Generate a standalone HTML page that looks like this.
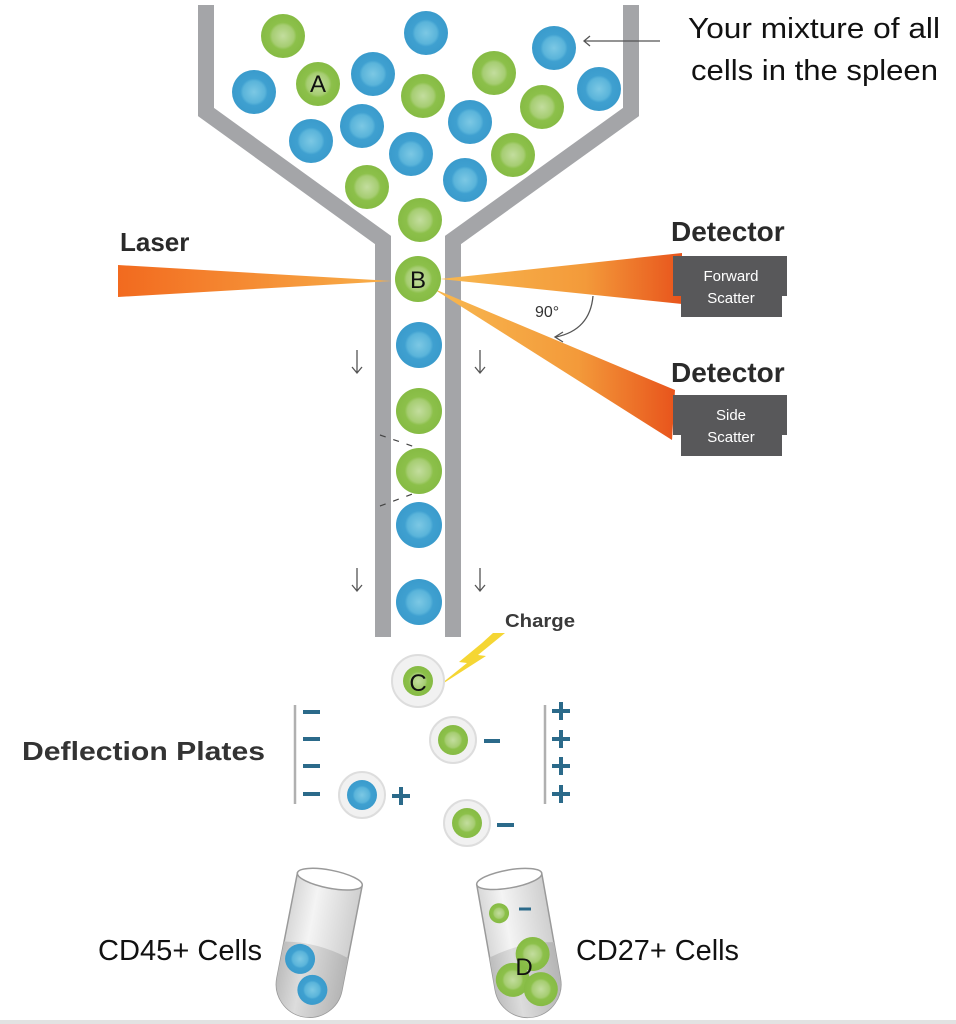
<!DOCTYPE html>
<html><head><meta charset="utf-8"><style>
html,body{margin:0;padding:0;background:#fff;width:956px;height:1024px;overflow:hidden}
svg{display:block}
text{font-family:"Liberation Sans",sans-serif}
</style></head><body>
<svg width="956" height="1024" viewBox="0 0 956 1024" xmlns="http://www.w3.org/2000/svg">
<defs>
<radialGradient id="gb" cx="50%" cy="50%" r="50%"><stop offset="0" stop-color="#7cc8e4"/><stop offset="0.5" stop-color="#5ab4da"/><stop offset="0.62" stop-color="#3fa0d0"/><stop offset="1" stop-color="#3a9bcc"/></radialGradient>
<radialGradient id="gg" cx="50%" cy="50%" r="50%"><stop offset="0" stop-color="#c3dd9e"/><stop offset="0.5" stop-color="#a6cd72"/><stop offset="0.62" stop-color="#8cc04a"/><stop offset="1" stop-color="#86bb44"/></radialGradient>
<linearGradient id="lz" x1="0" y1="0" x2="1" y2="0"><stop offset="0" stop-color="#f26a1f"/><stop offset="1" stop-color="#f8b04a"/></linearGradient>
<linearGradient id="lz2" x1="1" y1="0" x2="0" y2="0"><stop offset="0" stop-color="#e8541c"/><stop offset="0.4" stop-color="#f39a3a"/><stop offset="1" stop-color="#f8b850"/></linearGradient>
<linearGradient id="tube" x1="0" y1="0" x2="1" y2="0"><stop offset="0" stop-color="#d8d8d8"/><stop offset="0.35" stop-color="#f4f4f4"/><stop offset="1" stop-color="#cfcfcf"/></linearGradient>
<linearGradient id="tubel" x1="0" y1="0" x2="1" y2="0"><stop offset="0" stop-color="#bdbdbd"/><stop offset="0.35" stop-color="#dcdcdc"/><stop offset="1" stop-color="#b5b5b5"/></linearGradient>
</defs>

<g fill="none" stroke="#a4a5a8" stroke-width="16" stroke-linejoin="miter">
<polyline points="206,5 206,112 383,240 383,637"/>
<polyline points="631,5 631,112 453,240 453,637"/>
</g>

<polygon points="118,265 118,297 392,281" fill="url(#lz)"/>
<polygon points="440,279 682,253 682,304" fill="url(#lz2)"/>
<polygon points="432,288 675,390 672,440" fill="url(#lz2)"/>

<path d="M673,256 H787 V296 H782 V317 H681 V296 H673 Z" fill="#58585a"/>
<text x="731" y="281" font-size="15" fill="#fff" text-anchor="middle">Forward</text>
<text x="731" y="303" font-size="15" fill="#fff" text-anchor="middle">Scatter</text>
<path d="M673,395 H787 V435 H782 V456 H681 V435 H673 Z" fill="#58585a"/>
<text x="731" y="420" font-size="15" fill="#fff" text-anchor="middle">Side</text>
<text x="731" y="442" font-size="15" fill="#fff" text-anchor="middle">Scatter</text>

<text x="120" y="251" font-size="26" font-weight="bold" fill="#2a2a2a">Laser</text>
<text x="671" y="241" font-size="28" font-weight="bold" fill="#2a2a2a">Detector</text>
<text x="671" y="382" font-size="28" font-weight="bold" fill="#2a2a2a">Detector</text>
<text x="535" y="317" font-size="16" fill="#333">90°</text>
<path d="M593,296 Q590,330 556,337" fill="none" stroke="#555" stroke-width="1.3"/>
<path d="M563,332 L555,337 L563,342" fill="none" stroke="#555" stroke-width="1.3"/>

<g>
<circle cx="283" cy="36" r="22" fill="url(#gg)"/>
<circle cx="426" cy="33" r="22" fill="url(#gb)"/>
<circle cx="554" cy="48" r="22" fill="url(#gb)"/>
<circle cx="254" cy="92" r="22" fill="url(#gb)"/>
<circle cx="318" cy="84" r="22" fill="url(#gg)"/>
<circle cx="373" cy="74" r="22" fill="url(#gb)"/>
<circle cx="423" cy="96" r="22" fill="url(#gg)"/>
<circle cx="494" cy="73" r="22" fill="url(#gg)"/>
<circle cx="599" cy="89" r="22" fill="url(#gb)"/>
<circle cx="542" cy="107" r="22" fill="url(#gg)"/>
<circle cx="470" cy="122" r="22" fill="url(#gb)"/>
<circle cx="311" cy="141" r="22" fill="url(#gb)"/>
<circle cx="362" cy="126" r="22" fill="url(#gb)"/>
<circle cx="411" cy="154" r="22" fill="url(#gb)"/>
<circle cx="513" cy="155" r="22" fill="url(#gg)"/>
<circle cx="465" cy="180" r="22" fill="url(#gb)"/>
<circle cx="367" cy="187" r="22" fill="url(#gg)"/>
<circle cx="420" cy="220" r="22" fill="url(#gg)"/>
</g>
<text x="318" y="92" font-size="24" fill="#111" text-anchor="middle">A</text>

<line x1="660" y1="41" x2="584" y2="41" stroke="#555" stroke-width="1.3"/>
<path d="M590,36 L584,41 L590,46" fill="none" stroke="#555" stroke-width="1.3"/>
<text x="688" y="38" font-size="29" fill="#111" textLength="252" lengthAdjust="spacingAndGlyphs">Your mixture of all</text>
<text x="691" y="80" font-size="29" fill="#111" textLength="247" lengthAdjust="spacingAndGlyphs">cells in the spleen</text>

<circle cx="418" cy="279" r="23" fill="url(#gg)"/>
<text x="418" y="288" font-size="24" fill="#111" text-anchor="middle">B</text>
<circle cx="419" cy="345" r="23" fill="url(#gb)"/>
<circle cx="419" cy="411" r="23" fill="url(#gg)"/>
<circle cx="419" cy="471" r="23" fill="url(#gg)"/>
<circle cx="419" cy="525" r="23" fill="url(#gb)"/>
<circle cx="419" cy="602" r="23" fill="url(#gb)"/>

<g stroke="#444" stroke-width="1.2" stroke-dasharray="6,8">
<line x1="380" y1="435" x2="418" y2="448"/>
<line x1="380" y1="506" x2="418" y2="492"/>
</g>

<g fill="none" stroke="#555" stroke-width="1.3">
<path d="M357,350 V373 M352,367 L357,373 L362,367"/>
<path d="M480,350 V373 M475,367 L480,373 L485,367"/>
<path d="M357,568 V591 M352,585 L357,591 L362,585"/>
<path d="M480,568 V591 M475,585 L480,591 L485,585"/>
</g>

<text x="505" y="627" font-size="18" font-weight="bold" fill="#3a3a3a" textLength="70" lengthAdjust="spacingAndGlyphs">Charge</text>
<polygon points="493,633 505,633 478,655 486,656 436,688 467,663 459,662 482,643" fill="#f5d634"/>

<circle cx="418" cy="681" r="26" fill="#f1f1f1" stroke="#ddd" stroke-width="2"/>
<circle cx="418" cy="681" r="15" fill="url(#gg)"/>
<text x="418" y="691" font-size="24" fill="#111" text-anchor="middle">C</text>
<circle cx="453" cy="740" r="23" fill="#f1f1f1" stroke="#ddd" stroke-width="2"/>
<circle cx="453" cy="740" r="15" fill="url(#gg)"/>
<circle cx="362" cy="795" r="23" fill="#f1f1f1" stroke="#ddd" stroke-width="2"/>
<circle cx="362" cy="795" r="15" fill="url(#gb)"/>
<circle cx="467" cy="823" r="23" fill="#f1f1f1" stroke="#ddd" stroke-width="2"/>
<circle cx="467" cy="823" r="15" fill="url(#gg)"/>

<g stroke="#b0b0b0" stroke-width="2.5"><line x1="295" y1="705" x2="295" y2="804"/><line x1="545" y1="705" x2="545" y2="804"/></g>
<g stroke="#2b6a8a" stroke-width="4">
<line x1="303" y1="712" x2="320" y2="712"/><line x1="303" y1="739" x2="320" y2="739"/><line x1="303" y1="766" x2="320" y2="766"/><line x1="303" y1="794" x2="320" y2="794"/>
<line x1="552" y1="711" x2="570" y2="711"/><line x1="561" y1="702" x2="561" y2="720"/>
<line x1="552" y1="739" x2="570" y2="739"/><line x1="561" y1="730" x2="561" y2="748"/>
<line x1="552" y1="766" x2="570" y2="766"/><line x1="561" y1="757" x2="561" y2="775"/>
<line x1="552" y1="794" x2="570" y2="794"/><line x1="561" y1="785" x2="561" y2="803"/>
<line x1="484" y1="741" x2="500" y2="741"/>
<line x1="497" y1="825" x2="514" y2="825"/>
<line x1="392" y1="796" x2="410" y2="796"/><line x1="401" y1="787" x2="401" y2="805"/>
</g>
<text x="22" y="760" font-size="26" font-weight="bold" fill="#333" textLength="243" lengthAdjust="spacingAndGlyphs">Deflection Plates</text>

<g transform="translate(318,940) rotate(11)">
<path d="M-33,-62 V45 A33,33 0 0 0 33,45 V-62 Z" fill="url(#tube)" stroke="#9a9a9a" stroke-width="1.5"/>
<path d="M-33,8 Q0,2 33,12 V45 A33,33 0 0 1 -33,45 Z" fill="url(#tubel)"/>
<ellipse cx="0" cy="-62" rx="33" ry="9" fill="#fff" stroke="#9a9a9a" stroke-width="1.5"/>
<circle cx="-14" cy="22" r="15" fill="url(#gb)"/>
<circle cx="4" cy="50" r="15" fill="url(#gb)"/>
</g>
<g transform="translate(520,940) rotate(-10)">
<path d="M-33,-62 V45 A33,33 0 0 0 33,45 V-62 Z" fill="url(#tube)" stroke="#9a9a9a" stroke-width="1.5"/>
<path d="M-33,12 Q0,2 33,8 V45 A33,33 0 0 1 -33,45 Z" fill="url(#tubel)"/>
<ellipse cx="0" cy="-62" rx="33" ry="9" fill="#fff" stroke="#9a9a9a" stroke-width="1.5"/>
<circle cx="-16" cy="-30" r="10" fill="url(#gg)"/>
<circle cx="10" cy="16" r="17" fill="url(#gg)"/>
<circle cx="-14" cy="38" r="17" fill="url(#gg)"/>
<circle cx="12" cy="52" r="17" fill="url(#gg)"/>
</g>
<line x1="519" y1="909" x2="531" y2="909" stroke="#2b6a8a" stroke-width="3"/>
<text x="524" y="975" font-size="24" fill="#111" text-anchor="middle">D</text>

<text x="98" y="960" font-size="29" fill="#111" textLength="164" lengthAdjust="spacingAndGlyphs">CD45+ Cells</text>
<text x="576" y="960" font-size="29" fill="#111" textLength="163" lengthAdjust="spacingAndGlyphs">CD27+ Cells</text>

<rect x="0" y="1020" width="956" height="4" fill="#e2e2e2"/>
</svg>
</body></html>
